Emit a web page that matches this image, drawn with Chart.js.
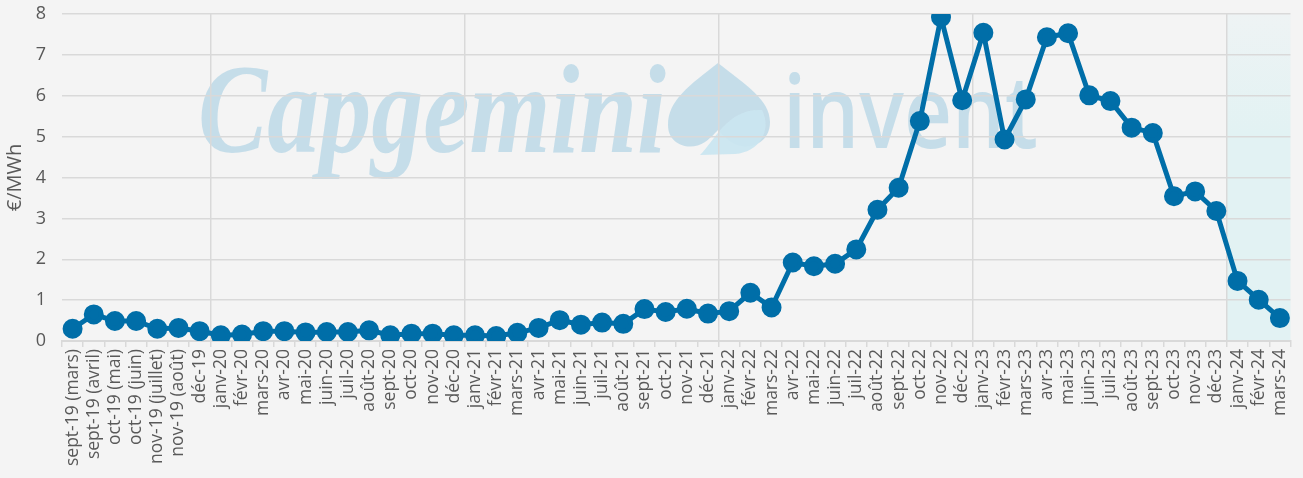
<!DOCTYPE html>
<html>
<head>
<meta charset="utf-8">
<script src="https://cdn.jsdelivr.net/npm/chart.js@4/dist/chart.umd.min.js"></script>
<style>
  html, body { margin: 0; padding: 0; background: #f4f4f4; }
  #wrap { width: 1303px; height: 478px; }
</style>
</head>
<body>
<div id="wrap"><canvas id="GraficoPrix"></canvas></div>
<script>
// donnees
var mois = ['sept-19 (mars)', 'sept-19 (avril)', 'oct-19 (mai)', 'oct-19 (juin)', 'nov-19 (juillet)', 'nov-19 (août)', 'déc-19',
  'janv-20', 'févr-20', 'mars-20', 'avr-20', 'mai-20', 'juin-20', 'juil-20', 'août-20', 'sept-20', 'oct-20', 'nov-20', 'déc-20',
  'janv-21', 'févr-21', 'mars-21', 'avr-21', 'mai-21', 'juin-21', 'juil-21', 'août-21', 'sept-21', 'oct-21', 'nov-21', 'déc-21',
  'janv-22', 'févr-22', 'mars-22', 'avr-22', 'mai-22', 'juin-22', 'juil-22', 'août-22', 'sept-22', 'oct-22', 'nov-22', 'déc-22',
  'janv-23', 'févr-23', 'mars-23', 'avr-23', 'mai-23', 'juin-23', 'juil-23', 'août-23', 'sept-23', 'oct-23', 'nov-23', 'déc-23',
  'janv-24', 'févr-24', 'mars-24'];
var prix = [0.30, 0.65, 0.49, 0.49, 0.30, 0.32, 0.24,
  0.14, 0.16, 0.24, 0.24, 0.21, 0.22, 0.22, 0.26, 0.14, 0.18, 0.18, 0.14,
  0.14, 0.12, 0.20, 0.32, 0.51, 0.40, 0.45, 0.42, 0.78, 0.71, 0.79, 0.67,
  0.73, 1.18, 0.82, 1.92, 1.83, 1.89, 2.24, 3.21, 3.75, 5.38, 7.92, 5.89,
  7.54, 4.93, 5.91, 7.43, 7.53, 6.01, 5.87, 5.22, 5.09, 3.54, 3.66, 3.18,
  1.47, 1.01, 0.56];
var yTicks = [0, 1, 2, 3, 4, 5, 6, 7, 8];
var moisPrevision = ['janv-24', 'févr-24', 'mars-24'];

var gris = '#d9d9d9';
var texte = '#595959';
var bleu = '#006ea8';

// debut de chaque annee -> ligne verticale
var debutsAnnee = [];
mois.forEach(function (m, i) { if (m.indexOf('janv') === 0) debutsAnnee.push(i); });

var fondPlugin = {
  id: 'fond',
  beforeDraw: function (chart) {
    var c = chart.ctx, a = chart.chartArea, x = chart.scales.x;
    c.save();
    // zone prevision
    var pas = x.getPixelForValue(1) - x.getPixelForValue(0);
    var x0 = x.getPixelForValue(mois.indexOf(moisPrevision[0])) - pas / 2;
    var g = c.createLinearGradient(0, a.top, 0, a.top + 120);
    g.addColorStop(0, '#eef3f4');
    g.addColorStop(1, '#e2f2f3');
    c.fillStyle = g;
    c.fillRect(x0, a.top, a.right - x0, a.bottom - a.top);

    // filigrane
    c.fillStyle = 'rgba(192,218,232,0.9)';
    c.font = 'bold italic 128px "Liberation Serif"';
    c.textBaseline = 'alphabetic';
    c.fillText('Capgemini', 198, 152, 468);
    // pique
    c.beginPath();
    c.moveTo(718, 63);
    c.bezierCurveTo(690, 85, 668, 100, 668, 125);
    c.bezierCurveTo(668, 145, 690, 152, 705, 142);
    c.bezierCurveTo(712, 137, 716, 132, 718, 130);
    c.bezierCurveTo(720, 132, 724, 137, 731, 142);
    c.bezierCurveTo(746, 152, 770, 145, 770, 122);
    c.bezierCurveTo(770, 100, 746, 85, 718, 63);
    c.fill();
    c.fillStyle = 'rgba(202,230,240,0.95)';
    c.beginPath();
    c.moveTo(700, 155);
    c.bezierCurveTo(715, 140, 728, 108, 762, 110);
    c.bezierCurveTo(772, 130, 760, 152, 735, 154);
    c.closePath();
    c.fill();
    c.fillStyle = 'rgba(192,218,232,0.9)';
    c.font = '600 102px "Open Sans"';
    c.fillText('invent', 783, 148, 255);
    c.restore();
  }
};

var ctx1 = document.getElementById('GraficoPrix').getContext('2d');
var data1 = {
  labels: mois,
  datasets: [{
    label: '€/MWh',
    data: prix,
    borderColor: bleu,
    backgroundColor: bleu,
    borderWidth: 5,
    pointRadius: 7.5,
    pointHoverRadius: 7.5,
    pointBackgroundColor: bleu,
    pointBorderColor: bleu,
    tension: 0
  }]
};
var options1 = {
  responsive: true,
  maintainAspectRatio: false,
  animation: false,
  layout: { padding: { top: 14, right: 10, left: 0, bottom: 0 } },
  plugins: { legend: { display: false }, tooltip: { enabled: false } },
  scales: {
    x: {
      offset: true,
      grid: {
        offset: true,
        color: function (c) { return debutsAnnee.indexOf(c.index) >= 0 ? gris : 'rgba(0,0,0,0)'; },
        tickColor: gris,
        lineWidth: 1.5,
        tickWidth: 1.5,
        tickLength: 6
      },
      border: { color: gris, width: 2 },
      ticks: {
        autoSkip: false,
        maxRotation: 90,
        minRotation: 90,
        color: texte,
        font: { family: 'Open Sans', size: 17.5 },
        padding: 2
      },
      afterFit: function (s) { s.height = 137; }
    },
    y: {
      min: 0,
      max: 8,
      afterBuildTicks: function (s) { s.ticks = yTicks.map(function (v) { return { value: v }; }); },
      grid: { color: gris, lineWidth: 1.5, drawTicks: false },
      border: { display: false },
      ticks: { color: texte, font: { family: 'Open Sans', size: 18 }, padding: 16 },
      title: { display: true, text: '€/MWh', color: texte, font: { family: 'Open Sans', size: 20 }, padding: { top: 3, bottom: 0 } },
      afterFit: function (s) { s.width = 62; s.paddingTop = 0; s.paddingBottom = 0; }
    }
  }
};
var GraficoPrix = new Chart(ctx1, {
  type: 'line',
  data: data1,
  options: options1,
  plugins: [fondPlugin]
});
</script>
</body>
</html>
